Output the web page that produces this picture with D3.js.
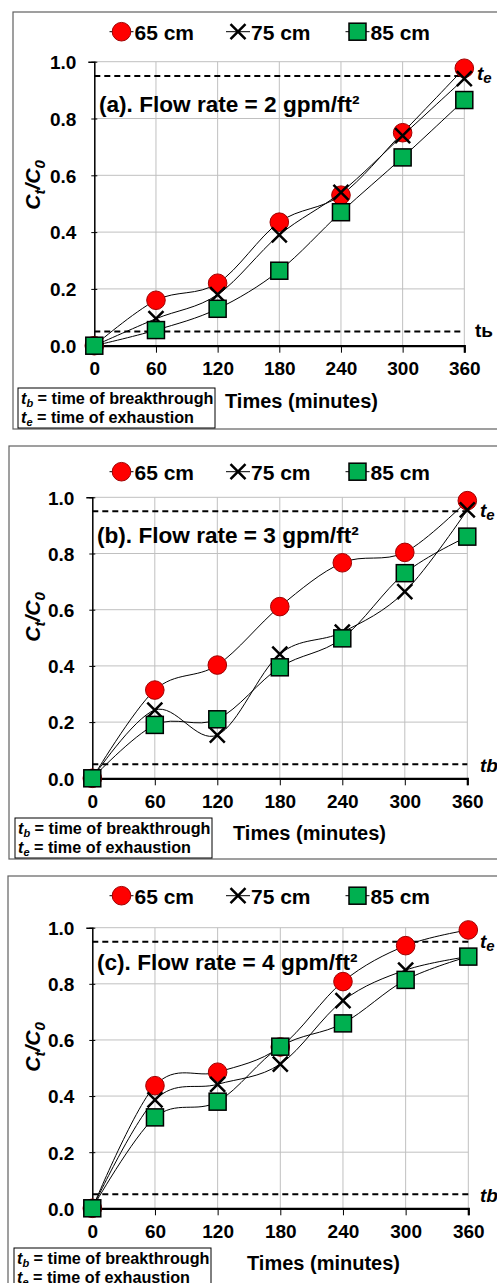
<!DOCTYPE html>
<html>
<head>
<meta charset="utf-8">
<script src="https://cdn.jsdelivr.net/npm/d3@7"></script>
<style>
  body { margin: 0; background: #fff; }
  text { font-family: "Liberation Sans", Arial, sans-serif; font-weight: bold; fill: #000; }
</style>
</head>
<body>
<div id="chart"></div>
<script>
// data
let times = [0, 60, 120, 180, 240, 300, 360];
let seriesNames = ["65 cm", "75 cm", "85 cm"];
let yTicks = [0, 0.2, 0.4, 0.6, 0.8, 1.0];

let a65 = [0, 0.16, 0.22, 0.435, 0.53, 0.75, 0.977];
let a75 = [0, 0.095, 0.18, 0.39, 0.54, 0.74, 0.94];
let a85 = [0, 0.055, 0.13, 0.264, 0.47, 0.663, 0.865];

let b65 = [0, 0.314, 0.403, 0.611, 0.767, 0.804, 0.988];
let b75 = [0, 0.243, 0.154, 0.442, 0.52, 0.664, 0.955];
let b85 = [0, 0.19, 0.21, 0.395, 0.498, 0.73, 0.86];

let c65 = [0, 0.437, 0.485, 0.575, 0.808, 0.936, 0.992];
let c75 = [0, 0.386, 0.442, 0.514, 0.74, 0.849, 0.897];
let c85 = [0, 0.324, 0.38, 0.576, 0.659, 0.814, 0.897];

let breakthrough = 0.05, exhaustion = 0.95;
let titles = ["(a). Flow rate = 2 gpm/ft²", "(b). Flow rate = 3 gpm/ft²", "(c). Flow rate = 4 gpm/ft²"];
let tbLabels = ["tь", "tb", "tb"];

// layout of each panel (pixels)
let panels = [
    { frame: [13, 12, 429], plot: [94.3, 464.3, 61.7, 345.7], legendY: 31.7, titleX: 99, titleY: 111.7,
      teY: 80, teX: 477, tbY: 337, tbX: 475, tbItalic: false, xTitleX: 225, yLabelY: 185, note: [18, 388],
      data: [a65, a75, a85] },
    { frame: [9, 446, 859], plot: [92.3, 467.3, 497.3, 778.3], legendY: 471.7, titleX: 97, titleY: 543,
      teY: 517, teX: 480, tbY: 772, tbX: 480, tbItalic: true, xTitleX: 233, yLabelY: 617, note: [15, 818],
      data: [b65, b75, b85] },
    { frame: [8, 876, 1300], plot: [92.3, 468.3, 927.7, 1208.3], legendY: 895.7, titleX: 97, titleY: 970,
      teY: 948, teX: 480, tbY: 1202, tbX: 480, tbItalic: true, xTitleX: 247, yLabelY: 1047, note: [14, 1248],
      data: [c65, c75, c85] }
];

let W = 497, H = 1283;
var svg = d3.select("#chart").append("svg")
    .attr("width", W)
    .attr("height", H);

function drawMarker(g, kind, x, y) {
    if (kind == 0) {
        g.append("circle").attr("cx", x).attr("cy", y).attr("r", 9.3)
            .attr("fill", "#ff0000").attr("stroke", "#a00000").attr("stroke-width", 1);
    } else if (kind == 1) {
        var s = 7.5;
        g.append("path")
            .attr("d", "M" + (x - s) + "," + (y - s) + "L" + (x + s) + "," + (y + s) + "M" + (x - s) + "," + (y + s) + "L" + (x + s) + "," + (y - s))
            .attr("stroke", "#000").attr("stroke-width", 2.5).attr("fill", "none");
    } else {
        var h = 8.5;
        g.append("rect").attr("x", x - h).attr("y", y - h).attr("width", 2 * h).attr("height", 2 * h)
            .attr("fill", "#00b050").attr("stroke", "#000").attr("stroke-width", 1.5);
    }
}

panels.forEach(function(p, pi) {
    var g = svg.append("g");

    // outer frame
    g.append("rect")
        .attr("x", p.frame[0]).attr("y", p.frame[1])
        .attr("width", W + 20 - p.frame[0]).attr("height", p.frame[2] - p.frame[1])
        .attr("fill", "none").attr("stroke", "#606060").attr("stroke-width", 1.2);

    var x = d3.scaleLinear().domain([0, 360]).range([p.plot[0], p.plot[1]]);
    var y = d3.scaleLinear().domain([0, 1]).range([p.plot[3], p.plot[2]]);

    // grid
    g.append("g").selectAll("line.vg").data(times.slice(1)).enter().append("line")
        .attr("x1", d => x(d)).attr("x2", d => x(d))
        .attr("y1", y(1)).attr("y2", y(0))
        .attr("stroke", "#c0c0c0").attr("stroke-width", 1);
    g.append("g").selectAll("line.hg").data(yTicks.slice(1)).enter().append("line")
        .attr("x1", x(0)).attr("x2", x(360))
        .attr("y1", d => y(d)).attr("y2", d => y(d))
        .attr("stroke", "#c0c0c0").attr("stroke-width", 1);

    // axes
    var yAxis = g.append("g")
        .attr("transform", "translate(" + x(0) + ",0)")
        .call(d3.axisLeft(y).tickValues(yTicks).tickFormat(d3.format(".1f")).tickSize(6).tickPadding(12));
    yAxis.select(".domain").attr("stroke", "#000").attr("stroke-width", 1.5);
    yAxis.selectAll(".tick line").attr("stroke", "#000").attr("stroke-width", 1).attr("transform", "translate(3,0)");
    yAxis.selectAll(".tick text").style("font-size", "19px").attr("dy", "0.36em");

    var xAxis = g.append("g")
        .attr("transform", "translate(0," + y(0) + ")")
        .call(d3.axisBottom(x).tickValues(times).tickSize(7).tickPadding(8));
    xAxis.select(".domain").attr("stroke", "#000").attr("stroke-width", 2.2);
    xAxis.selectAll(".tick line").attr("stroke", "#000").attr("stroke-width", 1);
    xAxis.selectAll(".tick text").style("font-size", "19px").attr("dy", "0.75em");

    // threshold lines
    [breakthrough, exhaustion].forEach(function(v) {
        g.append("line")
            .attr("x1", x(0)).attr("x2", x(360))
            .attr("y1", y(v)).attr("y2", y(v))
            .attr("stroke", "#000").attr("stroke-width", 2)
            .attr("stroke-dasharray", "6,4");
    });

    // series
    var line = d3.line()
        .x((d, i) => x(times[i]))
        .y(d => y(d))
        .curve(d3.curveCatmullRom.alpha(0));

    p.data.forEach(function(vals, si) {
        g.append("path")
            .attr("d", line(vals))
            .attr("fill", "none")
            .attr("stroke", "#000")
            .attr("stroke-width", 1);
        vals.forEach(function(v, i) {
            drawMarker(g, si, x(times[i]), y(v));
        });
    });

    // legend
    var legX = [121.5, 238, 357.5];
    seriesNames.forEach(function(name, si) {
        var cx = legX[si];
        g.append("line")
            .attr("x1", cx - 12).attr("x2", cx + 12)
            .attr("y1", p.legendY).attr("y2", p.legendY)
            .attr("stroke", "#000").attr("stroke-width", 1);
        drawMarker(g, si, cx, p.legendY);
        g.append("text")
            .attr("x", cx + 13).attr("y", p.legendY + 8)
            .style("font-size", "21px")
            .text(name);
    });

    // panel title
    g.append("text")
        .attr("x", p.titleX).attr("y", p.titleY)
        .style("font-size", "22.6px")
        .text(titles[pi]);

    // te / tb labels
    var te = g.append("text").attr("x", p.teX).attr("y", p.teY)
        .style("font-size", "19px").style("font-style", "italic");
    te.append("tspan").text("t");
    te.append("tspan").attr("font-size", "15px").attr("dy", 3).text("e");

    var tb = g.append("text").attr("x", p.tbX).attr("y", p.tbY)
        .style("font-size", "19px").style("font-style", p.tbItalic ? "italic" : "normal");
    tb.append("tspan").text(tbLabels[pi]);

    // axis titles
    g.append("text")
        .attr("x", p.xTitleX).attr("y", p.plot[3] + 62)
        .style("font-size", "20px")
        .text("Times (minutes)");

    var yl = g.append("text")
        .attr("transform", "translate(40," + p.yLabelY + ") rotate(-90)")
        .attr("text-anchor", "middle")
        .style("font-size", "21px").style("font-style", "italic");
    yl.append("tspan").text("C");
    yl.append("tspan").attr("font-size", "15px").attr("dy", 5).text("t");
    yl.append("tspan").attr("dy", -5).text("/C");
    yl.append("tspan").attr("font-size", "15px").attr("dy", 5).text("0");

    // note box
    var nb = g.append("g").attr("transform", "translate(" + p.note[0] + "," + p.note[1] + ")");
    nb.append("rect").attr("width", 197).attr("height", 40)
        .attr("fill", "#fff").attr("stroke", "#000").attr("stroke-width", 1);
    [["b", "time of breakthrough"], ["e", "time of exhaustion"]].forEach(function(r, ri) {
        var t = nb.append("text").attr("x", 3).attr("y", 16 + ri * 18.5).style("font-size", "16.2px");
        t.append("tspan").style("font-style", "italic").text("t");
        t.append("tspan").style("font-style", "italic").attr("font-size", "11px").attr("dy", 3).text(r[0]);
        t.append("tspan").attr("dy", -3).text(" = " + r[1]);
    });
});
</script>
</body>
</html>
